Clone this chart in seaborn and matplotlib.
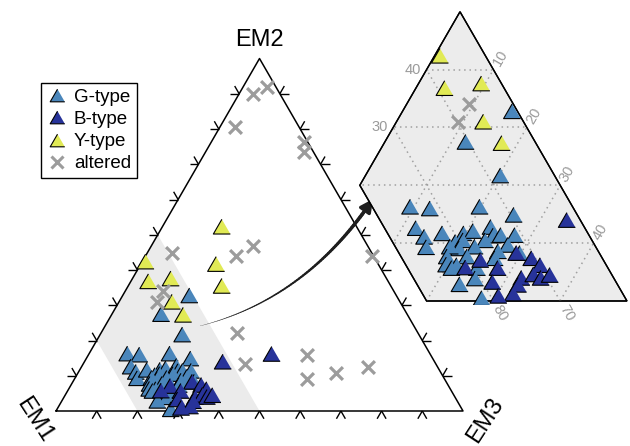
import numpy as np
import pandas as pd
import matplotlib.pyplot as plt
from matplotlib.collections import LineCollection
from matplotlib.lines import Line2D
from matplotlib.patches import Polygon
import seaborn as sns

# compositions in percent, (EM1, EM2, EM3)
g_type = [
    (50.8, 32.8, 16.4), (60.4, 27.5, 12.1), (58.1, 21.7, 20.2), (74.3, 16.3, 9.4),
    (71.5, 16.0, 12.5), (63.9, 16.3, 19.8), (59.5, 14.9, 25.6), (75.3, 12.6, 12.1),
    (74.8, 11.1, 14.1), (75.4, 9.3, 15.3), (71.8, 11.7, 16.5), (68.6, 11.7, 19.7),
    (67.0, 12.1, 20.9), (64.0, 12.8, 23.2), (64.4, 11.3, 24.3), (63.2, 11.4, 25.4),
    (61.1, 11.4, 27.5), (70.6, 10.2, 19.2), (69.3, 10.5, 20.2), (66.0, 10.5, 23.5),
    (68.1, 9.4, 22.5), (70.6, 9.1, 20.3), (71.8, 9.4, 18.8), (63.0, 9.7, 27.3),
    (65.0, 8.6, 26.4), (70.1, 7.7, 22.2), (73.1, 7.7, 19.2), (72.4, 6.2, 21.4),
    (73.9, 6.3, 19.8), (73.4, 5.7, 20.9), (69.6, 5.7, 24.7), (66.1, 7.4, 26.5),
    (70.8, 3.9, 25.3), (73.6, 2.9, 23.5), (71.5, 0.5, 28.0), (61.9, 8.3, 29.8),
]
b_type = [
    (52.0, 14.0, 34.0), (62.4, 8.3, 29.3), (60.6, 7.4, 32.0), (59.9, 6.2, 33.9),
    (68.4, 7.1, 24.5), (71.3, 5.8, 22.9), (66.5, 5.7, 27.8), (63.8, 4.0, 32.2),
    (61.7, 4.6, 33.7), (60.9, 4.0, 35.1), (59.3, 4.5, 36.2), (68.5, 3.3, 28.2),
    (64.9, 2.8, 32.3), (66.4, 1.3, 32.3), (68.8, 0.9, 30.3), (38.9, 16.2, 44.9),
]
y_type = [
    (56.8, 42.4, 0.8), (58.9, 36.8, 4.3), (53.0, 37.6, 9.4), (56.0, 31.0, 13.0),
    (55.1, 27.3, 17.6), (33.1, 52.3, 14.6), (39.8, 41.7, 18.5), (41.5, 35.5, 23.0),
]
altered = [
    (6.6, 89.9, 3.5), (2.2, 92.0, 5.8), (15.8, 80.5, 3.7), (0.9, 76.4, 22.7),
    (2.4, 73.4, 24.2), (49.1, 44.9, 6.0), (33.8, 44.0, 22.2), (28.2, 46.9, 24.9),
    (56.6, 34.1, 9.3), (59.8, 31.0, 9.2), (44.4, 22.2, 33.4), (46.8, 13.3, 39.9),
    (30.3, 16.0, 53.7), (33.7, 9.1, 57.2), (25.7, 10.9, 63.4), (17.1, 12.6, 70.3),
    (0.4, 44.0, 55.6),
]

type_names = ["G-type", "B-type", "Y-type", "altered"]
type_colors = {"G-type": "#4a86bb", "B-type": "#27339a",
               "Y-type": "#e1ea55", "altered": "#9c9c9c"}

main_ticks = [10, 20, 30, 40, 50, 60, 70, 80, 90]
zoom_em1 = (50, 80)          # EM1 range of the shaded band / inset
inset_grid_em1 = [60, 70]
inset_grid_em2 = [10, 20, 30, 40]
inset_grid_em3 = [10, 20, 30, 40]
inset_em2_labels = [30, 40]
inset_em3_labels = [10, 20, 30, 40]
inset_bottom_pos = [70, 60]
inset_bottom_labels = ["80", "70"]

SQ = np.sqrt(3) / 2


def tern(em1, em2, em3):
    tot = np.asarray(em1) + np.asarray(em2) + np.asarray(em3)
    return (np.asarray(em3) + 0.5 * np.asarray(em2)) / tot, SQ * np.asarray(em2) / tot


rows = [(name, *p) for name, pts in zip(type_names, [g_type, b_type, y_type, altered])
        for p in pts]
df = pd.DataFrame(rows, columns=["type", "EM1", "EM2", "EM3"])
df["x"], df["y"] = tern(df["EM1"], df["EM2"], df["EM3"])

lo, hi = zoom_em1
band = np.column_stack(tern([hi, lo, lo, hi], [100 - hi, 100 - lo, 0, 0],
                            [0, 0, 100 - lo, 100 - hi]))

sns.set_style("white")
plt.rcParams["font.family"] = ["Liberation Sans", "DejaVu Sans"]
plt.rcParams["text.color"] = "black"

tri_marker = [(0, SQ), (-1, -SQ), (1, -SQ)]


def draw_points(axis, data):
    sns.scatterplot(data=data[data["type"] != "altered"], x="x", y="y", hue="type",
                    palette=type_colors, marker=tri_marker, s=150, edgecolor="black",
                    linewidth=0.8, legend=False, ax=axis, zorder=3)
    sns.scatterplot(data=data[data["type"] == "altered"], x="x", y="y",
                    color=type_colors["altered"], marker="x", s=85, linewidth=2.3,
                    legend=False, ax=axis, zorder=3)


fig = plt.figure(figsize=(6.3, 4.46), dpi=100)
ax = fig.add_axes([0, 0, 1, 1])
ax.set_xlim(-0.1376, 1.4103)
ax.set_ylim(-0.0860, 1.0098)
ax.axis("off")

# main triangle
ax.add_patch(Polygon(band, closed=True, facecolor="#ebebeb", edgecolor="none", zorder=0))
ax.plot([0, 1, 0.5, 0], [0, 0, SQ, 0], color="black", lw=1.1, zorder=2)

L = 0.022
segs = []
for v in main_ticks:
    t = v / 100
    p = np.array([0.5 * t, SQ * t])
    segs += [[p, p + L * np.array([-1, 0])], [p, p + L * np.array([-0.5, SQ])]]
    p = np.array([t, 0])
    segs += [[p, p + L * np.array([-0.5, -SQ])], [p, p + L * np.array([0.5, -SQ])]]
    p = np.array([1 - 0.5 * t, SQ * t])
    segs += [[p, p + L * np.array([1, 0])], [p, p + L * np.array([0.5, SQ])]]
ax.add_collection(LineCollection(segs, colors="black", linewidths=1.0, zorder=2))

ax.text(0.5, SQ + 0.045, "EM2", ha="center", va="center", fontsize=17)
ax.text(-0.052, -0.022, "EM1", ha="center", va="center", fontsize=17, rotation=-57)
ax.text(1.054, -0.022, "EM3", ha="center", va="center", fontsize=17, rotation=57)

draw_points(ax, df)

# curved arrow towards the inset
p0, c, p2 = np.array([0.354, 0.209]), np.array([0.6135, 0.275]), np.array([0.779, 0.521])
tt = np.linspace(0, 0.93, 80)[:, None]
curve = (1 - tt) ** 2 * p0 + 2 * tt * (1 - tt) * c + tt ** 2 * p2
csegs = np.stack([curve[:-1], curve[1:]], axis=1)
ax.add_collection(LineCollection(csegs, colors="#1e1e1e", linewidths=np.linspace(0.15, 2.6, len(csegs)),
                                 capstyle="round", zorder=4))
ax.annotate("", xy=p2, xytext=curve[-1],
            arrowprops=dict(arrowstyle="-|>,head_length=0.75,head_width=0.38",
                            color="#1e1e1e", lw=2.4, shrinkA=0, shrinkB=0), zorder=4)

handles = [Line2D([], [], linestyle="none", marker=tri_marker, markersize=10.5,
                  markerfacecolor=type_colors[n], markeredgecolor="black",
                  markeredgewidth=0.8, label=n) for n in type_names[:3]]
handles.append(Line2D([], [], linestyle="none", marker="x", markersize=8,
                      color=type_colors["altered"], markeredgewidth=2.2, label="altered"))
leg = ax.legend(handles=handles, loc="upper left", bbox_to_anchor=(41 / 630, 1 - 83 / 446),
                bbox_transform=fig.transFigure, fontsize=13.5, frameon=True, fancybox=False,
                edgecolor="black", framealpha=1, borderpad=0.3, labelspacing=0.27,
                handlelength=1.1, handletextpad=0.35, borderaxespad=0)
leg.get_frame().set_linewidth(1.0)

# zoomed inset of the shaded band
axi = fig.add_axes([355 / 630, (446 - 305) / 446, 275 / 630, 297 / 446])
axi.set_xlim(0.0928, 0.5045)
axi.set_ylim(-0.006, 0.4386)
axi.axis("off")
poly = Polygon(band, closed=True, facecolor="#ececec", edgecolor="black", lw=1.0, zorder=1)
axi.add_patch(poly)

gsegs = []
for v in inset_grid_em2:
    t = v / 100
    gsegs.append([(0, SQ * t), (1, SQ * t)])
for v in inset_grid_em3:
    t = v / 100
    gsegs.append([(t, 0), (t + 0.5 * (1 - t), SQ * (1 - t))])
for v in inset_grid_em1:
    t = v / 100
    gsegs.append([(1 - t, 0), (0.5 * (1 - t), SQ * (1 - t))])
grid = LineCollection(gsegs, colors="#a0a0a0", linewidths=1.1, linestyles=(0, (1, 2.5)), zorder=2)
axi.add_collection(grid)
grid.set_clip_path(poly)
axi.add_patch(Polygon(band, closed=True, facecolor="none", edgecolor="black", lw=1.0, zorder=2))

inset_df = df[(df["EM1"] >= lo) & (df["EM1"] <= hi)]
draw_points(axi, inset_df)

lab = dict(color="#9a9a9a", fontsize=10.5, clip_on=False)
for v in inset_em2_labels:
    t = v / 100
    axi.text(0.5 * t - 0.008, SQ * t, str(v), ha="right", va="center", **lab)
for v in inset_em3_labels:
    t = v / 100
    axi.text(0.25 + 0.5 * t + 0.02 * 0.5, SQ * (0.5 - t) + 0.02 * SQ, str(v),
             ha="center", va="center", rotation=60, **lab)
for v, s in zip(inset_bottom_pos, inset_bottom_labels):
    t = v / 100
    axi.text(1 - t + 0.021 * 0.5, -0.021 * SQ, s, ha="center", va="center", rotation=-60, **lab)

fig.savefig("out.png", dpi=100)
